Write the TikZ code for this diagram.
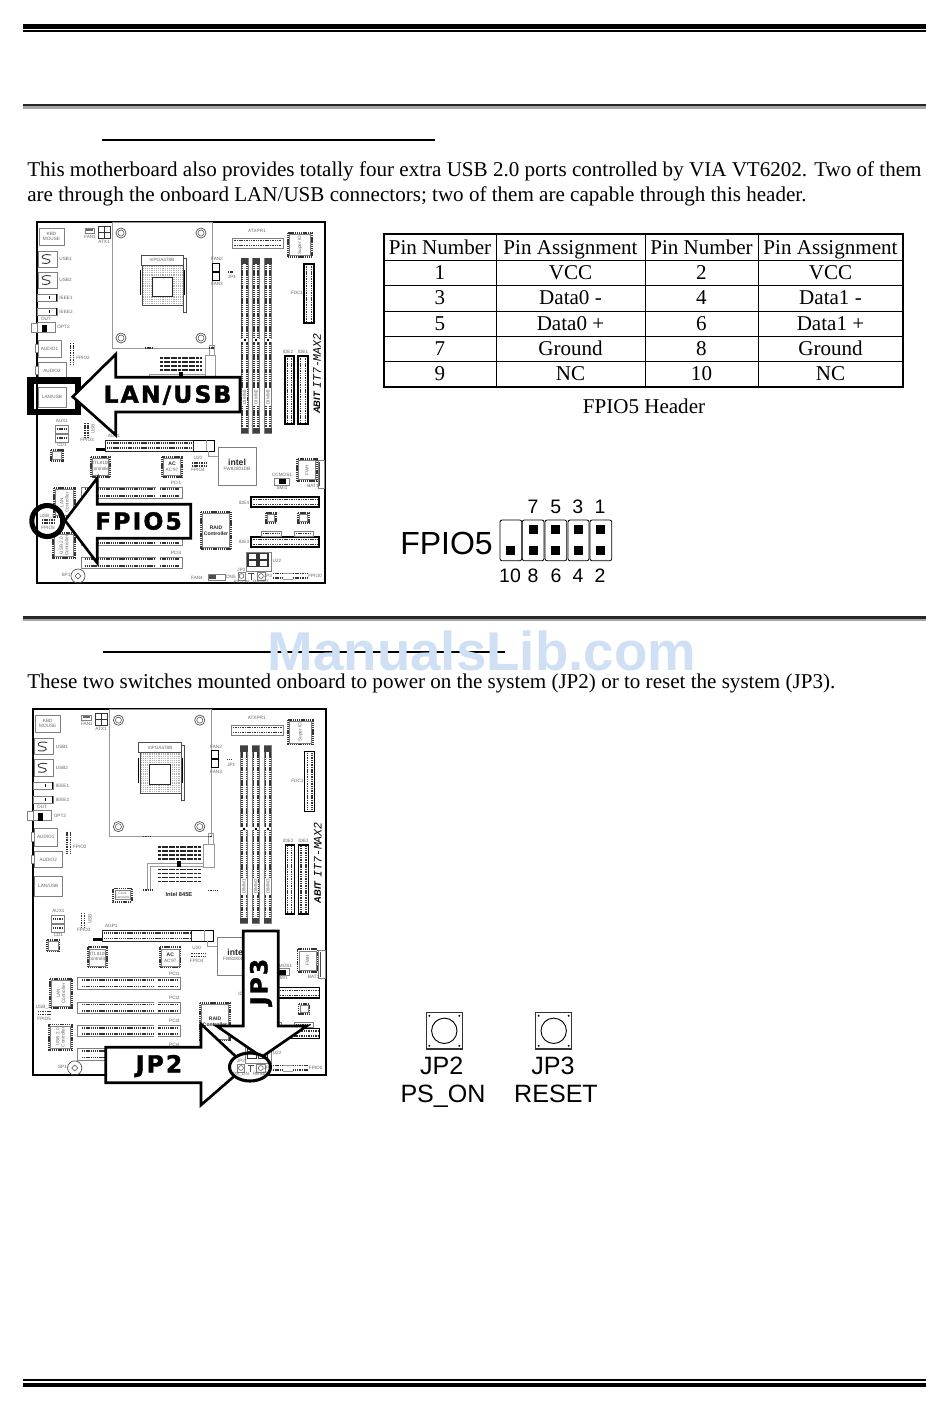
\documentclass[tikz,border=0pt]{standalone}
\usepackage{fontspec}
\setmainfont{Liberation Serif}
\newfontfamily\sanslab{Liberation Sans}
\newfontfamily\arrowfont[LetterSpace=9,FakeBold=1.6]{DejaVu Sans Bold}
\newfontfamily\brandfont{Liberation Mono}
\tikzset{
  boardtxt/.style={font=\sanslab\fontsize{3.5}{4}\selectfont,text=black!60,inner sep=0pt,align=center},
  boldtxt/.style={font=\sanslab\bfseries\fontsize{3.8}{4.2}\selectfont,text=black!85,inner sep=0pt,align=center},
  pins/.style={draw=black!80,line width=1.3pt,dash pattern=on .9pt off .5pt},
  thinpins/.style={draw=black!80,line width=.9pt,dash pattern=on .8pt off .5pt},
  holder/.style={draw=black!50,line width=.5pt,fill=white},
  rail/.style={draw=black!40,line width=.6pt},
  frameline/.style={draw=black,line width=1pt},
  bigarrow/.style={draw=black,fill=white,line width=2pt,miter limit=20},
  arrowtxt/.style={font=\arrowfont\fontsize{17.6}{18}\selectfont,inner sep=0pt},
  bodytxt/.style={font=\fontsize{15.8}{18}\selectfont,inner sep=0pt,anchor=base west},
  celltxt/.style={font=\fontsize{15.8}{18}\selectfont,inner sep=0pt,anchor=base},
  sanstxt/.style={font=\sanslab\fontsize{14.6}{16}\selectfont,inner sep=0pt},
  bigsans/.style={font=\sanslab\fontsize{18.8}{20}\selectfont,inner sep=0pt,anchor=base},
  pincell/.style={draw=black,line width=.6pt,rounded corners=1.5pt},
  pinsq/.style={fill=black},
  switchbox/.style={draw=black!80,line width=1.1pt},
}
\newcommand{\pfx}{a}
\newcommand{\lbl}[4][]{\node[boardtxt,#1] (\pfx#2) at (#3) {#4};}
\newcommand{\chipbody}[4]{
  \draw[pins] (#1,#2) rectangle (#3,#4);
  \draw[holder] ({#1+1.5},{#2+1.5}) rectangle ({#3-1.5},{#4-1.5});
}
\newcommand{\slotbody}[4]{
  \draw[holder] (#1,#2) rectangle (#3,#4);
  \draw[pins] ({#1+4},{#2+2.3}) -- ({#3-3},{#2+2.3});
  \draw[pins] ({#1+4},{#4-2.3}) -- ({#3-3},{#4-2.3});
  \fill[white] ({#1+75},#2) rectangle ({#1+79},#4);
}
\newcommand{\hhead}[4]{
  \draw[draw=black,line width=.9pt,fill=white] (#1,#2) rectangle (#3,#4);
  \draw[thinpins] ({#1+1.5},{#2+2.6}) -- ({#3-1.5},{#2+2.6});
  \draw[thinpins] ({#1+1.5},{#4-2.6}) -- ({#3-1.5},{#4-2.6});
}
\newcommand{\vhead}[4]{
  \draw[draw=black,line width=1pt,fill=white] (#1,#2) rectangle (#3,#4);
  \draw[thinpins] ({#1+2.6},{#2+1.5}) -- ({#1+2.6},{#4-1.5});
  \draw[thinpins] ({#3-2.6},{#2+1.5}) -- ({#3-2.6},{#4-1.5});
}
\newcommand{\segparts}{
  \draw[holder] (246,552) rectangle (271,571);
  \foreach \xx in {248,259}{
    \draw[black!80,line width=.8pt] (\xx,553.5) rectangle (\xx+9,566.5);
    \draw[black!80,line width=.8pt] (\xx,560) -- (\xx+9,560);
  }
  \lbl{jp2t}{241.5,569.5}{JP2}
  \draw[holder] (238,572) rectangle (245,580);
  \draw[black!70,line width=.4pt] (241.5,576) circle [radius=2.4];
  \draw[black!70,line width=.6pt] (248,573) -- (254,573) (251,573) -- (251,580);
  \draw[holder] (257,572) rectangle (265,580);
  \draw[black!70,line width=.4pt] (261,576) circle [radius=2.4];
  \lbl{jp3t}{268,575.5}{JP3}
  \lbl{pson}{241.5,582}{PS\_ON}
  \lbl{rset}{261,581.5}{RESET}
}
\newcommand{\hiddenparts}{
  \node[boldtxt,font=\sanslab\bfseries\fontsize{4.3}{5}\selectfont] (\pfx mch) at (180.5,404.5) {Intel 845E};
  \draw[pins] (116,399) rectangle (134,412);
  \draw[holder] (117.5,401) rectangle (132.5,410);
  \node[boardtxt,font=\sanslab\fontsize{2.4}{2.8}\selectfont] (\pfx clk) at (125,405.5) {Clock\\Generator};
  \lbl{pci2}{176,507}{PCI2}
  \lbl{pci3}{176,530}{PCI3}
}
\newcommand{\boardparts}{
%back panel
  \draw[frameline] (37,222) -- (325,222) -- (325,583) -- (37,583) -- cycle;
  \draw[holder] (39,228) rectangle (64,245);
  \lbl{kbd}{51.5,236.5}{KBD\\MOUSE}
  \foreach \yy/\nn in {251/1,272/2}{
    \draw[holder] (38,\yy) rectangle (57,\yy+16);
    \draw[black!75,line width=.7pt] (42,\yy+12) .. controls (52,\yy+14) and (52,\yy+8) .. (46,\yy+8) .. controls (40,\yy+8) and (40,\yy+2) .. (51,\yy+4);
    \lbl{usb\nn}{65.5,\yy+8}{USB\nn}
  }
  \foreach \yy/\nn in {294/1,308/2}{
    \draw[holder] (37,\yy) rectangle (57,\yy+7);
    \draw[black,line width=.6pt] (49,\yy+2) -- (49,\yy+5);
    \draw[black,line width=.6pt] (56.5,\yy) -- (56.5,\yy+7);
    \lbl{ieee\nn}{66,\yy+3.5}{IEEE\nn}
  }
  \lbl{out}{46,319}{OUT}
  \draw[holder] (31,323) rectangle (37,332);
  \draw[holder] (37,322) rectangle (55,332);
  \fill[black] (42,325) rectangle (47,332);
  \lbl{opt}{63.5,327}{OPT2}
  \draw[holder] (35,344) rectangle (38,352);
  \draw[holder] (38,340) rectangle (61,357);
  \lbl{aud1}{49.5,348.5}{AUDIO1}
  \draw[holder] (35,366) rectangle (38,374);
  \draw[holder] (38,362) rectangle (66,378);
  \lbl{aud2}{52,370.5}{AUDIO2}
  \draw[holder] (38,387) rectangle (66,407);
  \lbl{lan}{52,396.5}{LAN/USB}
  \draw[thinpins] (70.5,343) -- (70.5,364);
  \draw[thinpins] (73.5,343) -- (73.5,364);
  \lbl{fp2}{83,358}{FPIO2}
%cpu
  \draw[rail] (112,222) rectangle (212,348);
  \foreach \xx/\yy in {121/233,201/233,121/338,201/338}{
    \draw[black!70,line width=.5pt] (\xx,\yy) circle [radius=5];
    \draw[black!70,line width=.4pt] (\xx,\yy) circle [radius=3];
  }
  \fill[black!30] (142,265) rectangle (183,305);
  \foreach \gg in {0,2.2,...,41}{
    \draw[white,line width=.5pt] (142+\gg,265) -- (142+\gg,305);
    \draw[white,line width=.5pt] (142,265+\gg) -- (183,265+\gg);
  }
  \draw[black!70,line width=.4pt] (142,265) rectangle (183,305);
  \draw[draw=black!85,line width=.7pt,fill=white] (152,277) rectangle (172,296);
  \draw[black!70,line width=.6pt] (141,255) rectangle (183,265);
  \lbl{mpga}{162,260}{mPGA478B}
  \draw[black,line width=1pt] (140.5,270) -- (140.5,295);
  \draw[black,line width=1pt] (184,270) -- (184,295);
  \draw[black!70,line width=.6pt] (183,258) rectangle (186,312);
  \draw[draw=black,line width=.6pt] (212,263) rectangle (219,271);
  \draw[draw=black,line width=.6pt] (212,272) rectangle (219,280);
  \lbl{fan2}{217,259}{FAN2}
  \lbl{fan3}{217,284}{FAN3}
  \draw[thinpins] (228,272) -- (233,272);
  \lbl{jp1}{232,277}{JP1}
  \draw[holder] (85,228) rectangle (94,233);
  \fill[black!60] (86,229) rectangle (93,231);
  \lbl{fan1}{90,237}{FAN1}
  \draw[draw=black!80,line width=.7pt,fill=white] (98,226) rectangle (110,238);
  \draw[black!80,line width=.6pt] (104,226) -- (104,238) (98,232) -- (110,232);
  \lbl{atx}{104,242}{ATX1}
  \lbl{atxp}{257,231}{ATXPR1}
  \draw[holder] (232,238) rectangle (283,248);
  \draw[thinpins] (233.5,240.6) -- (281.5,240.6);
  \draw[thinpins] (233.5,245.4) -- (281.5,245.4);
  \chipbody{288}{233}{312}{257}
  \lbl[rotate=90]{sio}{300,245}{Super IO}
  \vhead{304}{264}{314}{323}
  \lbl{fdc}{297,293}{FDC1}
%memory
  \foreach \xx/\nn in {244.5/1,256/2,268/3}{
    \draw[holder] (\xx-3.5,258) rectangle (\xx+3.5,433);
    \draw[pins] (\xx-2.3,264) -- (\xx-2.3,427);
    \draw[pins] (\xx+2.3,264) -- (\xx+2.3,427);
    \fill[black!75] (\xx-3.5,258) rectangle (\xx+3.5,264);
    \fill[black!75] (\xx-3.5,428) rectangle (\xx+3.5,433);
    \fill[white] (\xx-3.5,338.5) rectangle (\xx+3.5,341.5);
    \fill[black] (\xx-1,339) rectangle (\xx+1,341);
    \node[boardtxt,fill=white,rotate=90,inner sep=.8pt] (\pfx dimm\nn) at (\xx,397) {DIMM\nn};
  }
  \vhead{285}{356}{294}{424}
  \vhead{298}{356}{308}{424}
  \lbl{ide2}{288,352}{IDE2}
  \lbl{ide1}{303,352}{IDE1}
  \node[rotate=90,inner sep=0pt,font=\brandfont\itshape\fontsize{8.6}{9}\selectfont] (\pfx brand) at (317,361) {IT7-MAX2};
  \node[rotate=90,inner sep=0pt,font=\sanslab\bfseries\itshape\fontsize{7}{8}\selectfont] (\pfx logo) at (317,403) {ABIT};
%north bridge
  \foreach \yy in {358,362,366,370,380,384,388,392}
    \draw[draw=black!85,line width=1.1pt,dash pattern=on 2.2pt off .5pt] (160,\yy) -- (202,\yy);
  \fill[black] (178.5,371.5) rectangle (183,378);
  \draw[rail,fill=white] (205,355.5) rectangle (215,378.5);
  \draw[rail] (149,400) -- (149,374) -- (178.5,374) (183,374) -- (205,374);
  \draw[rail] (152,400) -- (152,377) -- (178.5,377) (183,377) -- (205,377);
  \draw[rail] (209,345) rectangle (214,355.5);
  \draw[thinpins] (209,348) -- (214,348);
  \draw[thinpins] (145,348) -- (152,348);
  \draw[thinpins] (145,400.5) -- (155,400.5);
  \draw[thinpins] (209,401) -- (218,401);
%south side
  \draw[holder] (55,425) rectangle (68,433);
  \draw[thinpins] (57,429) -- (66,429);
  \lbl{aux}{62,421}{AUX1}
  \draw[holder] (55,434) rectangle (68,442);
  \draw[thinpins] (57,438) -- (66,438);
  \lbl{cd}{62,445}{CD1}
  \draw[thinpins] (85,423) -- (85,437);
  \draw[thinpins] (88,423) -- (88,437);
  \lbl{fp3}{87,440}{FPIO3}
  \lbl[rotate=90]{usbh}{93,429}{USB}
  \lbl{agp}{114,436}{AGP1}
  \draw[draw=black!85,line width=.7pt,fill=white] (105,440) rectangle (193,451);
  \draw[pins] (107,442.7) -- (192,442.7);
  \draw[pins] (107,448.3) -- (192,448.3);
  \fill[black] (96,448) rectangle (105,451);
  \draw[draw=black,line width=.7pt] (193,440) -- (214,440) -- (214,451) -- (193,451);
  \draw[rail] (206,440) -- (206,451) (208,451) -- (208,456) -- (218,456);
  \draw[holder] (218,447) rectangle (256,485);
  \node[boldtxt,font=\sanslab\bfseries\fontsize{6.5}{7}\selectfont] (\pfx ich) at (237,462) {intel};
  \lbl{ichn}{237,468.5}{FW82801DB}
  \chipbody{51}{450}{63}{461}
  \chipbody{91}{457}{110}{477}
  \lbl{lanc}{100.5,466}{RTL8100\\Controller}
  \chipbody{162}{457}{182}{477}
  \node[boldtxt] (\pfx acl) at (172,464) {AC};
  \lbl{acc}{172,470}{AC'97}
  \draw[thinpins] (192,463) -- (206,463);
  \draw[thinpins] (192,466) -- (206,466);
  \lbl{u20}{198,458}{U20}
  \lbl{fp4}{198,470}{FPIO4}
  \chipbody{297}{459}{317}{481}
  \lbl[rotate=90]{fwh}{307,470}{FWH}
  \draw[holder] (318,460) rectangle (324,488);
  \draw[black!70,line width=.3pt] (319.5,462) -- (319.5,486);
  \lbl{bat}{313,486}{BAT1}
  \lbl{ccm}{282,475}{CCMOS1}
  \draw[holder] (274,478) rectangle (289,485);
  \fill[black] (279,479) rectangle (286,484);
  \lbl{smi}{282,487.5}{SMI1}
%slots
  \foreach \yy in {487,511,534,557}{
    \slotbody{81}{\yy}{182}{\yy+11}
  }
  \lbl{pci1}{176,483}{PCI1}
  \lbl{pci4}{176,553}{PCI4}
  \chipbody{54}{488}{75}{517}
  \lbl[rotate=90]{lanx}{64.5,502.5}{LAN\\Controller}
  \chipbody{53}{533}{75}{558}
  \lbl[rotate=90]{usbx}{64,545.5}{USB 2.0\\Controller}
  \draw[thinpins] (42,520) -- (55,520);
  \draw[thinpins] (42,523) -- (55,523);
  \lbl{usbp}{47,516}{USB\_1}
  \lbl{fp5}{48,528}{FPIO5}
  \chipbody{201}{512}{231}{549}
  \node[boldtxt] (\pfx raid) at (216,530.5) {RAID\\Controller};
  \hhead{251}{497}{319}{507}
  \hhead{251}{537}{319}{547}
  \lbl{ide4}{244,503}{IDE4}
  \lbl{ide3}{244,542}{IDE3}
  \chipbody{266}{513}{276}{523}
  \chipbody{298}{513}{309}{523}
  \draw[holder] (261,531) rectangle (281,536);
  \draw[thinpins] (263,533.5) -- (279,533.5);
  \draw[holder] (294,531) rectangle (313,536);
  \draw[thinpins] (296,533.5) -- (311,533.5);
%bottom edge
  \segparts
  \lbl{u22}{277,561}{U22}
  \draw[black!70,line width=.5pt] (78,576) circle [radius=7];
  \draw[black!70,line width=.4pt] (78,573) -- (81,576) -- (78,579) -- (75,576) -- cycle;
  \lbl{sp}{66,575}{SP1}
  \draw[holder] (208,574) rectangle (225,580);
  \fill[black!70] (209,575) rectangle (216,579);
  \lbl{fwl}{197,578}{FAN4}
  \lbl{dnl}{231,577}{DN5}
  \draw[thinpins] (273,573.5) -- (283,573.5);
  \draw[thinpins] (273,578) -- (283,578);
  \draw[thinpins] (293,573.5) -- (307,573.5);
  \draw[thinpins] (293,578) -- (307,578);
  \draw[rail] (283,573) -- (293,573) (283,579) -- (293,579);
  \lbl{fp0}{315,576}{FPIO0}
}
\begin{document}
\begin{tikzpicture}[x=.75pt,y=-.75pt]
\useasboundingbox[fill=white] (0,0) rectangle (950,1411);
%rules
\fill[black] (23,24) rectangle (926,28.5);
\fill[black] (23,30.3) rectangle (926,32);
\fill[black!35] (23,105) rectangle (926,108.5);
\fill[black!85] (23,103.5) rectangle (926,105.5);
\fill[black!35] (23,618) rectangle (926,621);
\fill[black!85] (23,616) rectangle (926,618.5);
\fill[black] (23,1379) rectangle (926,1381);
\fill[black] (23,1383) rectangle (926,1387.3);
\draw[black,line width=1.5pt] (102,140) -- (435,140);
\draw[black,line width=1.5pt] (103,652) -- (505,652);
%text
\node[bodytxt] (line1) at (27,176) {This motherboard also provides totally four extra USB 2.0 ports controlled by VIA VT6202. Two of them};
\node[bodytxt] (line2) at (27,201) {are through the onboard LAN/USB connectors; two of them are capable through this header.};
\node[bodytxt] (line3) at (27,688) {These two switches mounted onboard to power on the system (JP2) or to reset the system (JP3).};
%table
\draw[black,line width=.9pt] (384,234) rectangle (903,387);
\foreach \yy in {260,285,311,336,361} \draw[black,line width=.7pt] (384,\yy) -- (903,\yy);
\foreach \xx in {496,645,758} \draw[black,line width=.7pt] (\xx,234) -- (\xx,387);
\foreach \yy/\aa/\bb/\cc/\dd/\rr in {254/Pin Number/Pin Assignment/Pin Number/Pin Assignment/0,
    279/1/VCC/2/VCC/1,304.5/3/Data0 -/4/Data1 -/2,330/5/Data0 +/6/Data1 +/3,
    355.5/7/Ground/8/Ground/4,380.5/9/NC/10/NC/5}{
  \node[celltxt] (cella\rr) at (440,\yy) {\aa};
  \node[celltxt] (cellb\rr) at (570.5,\yy) {\bb};
  \node[celltxt] (cellc\rr) at (701.5,\yy) {\cc};
  \node[celltxt] (celld\rr) at (830.5,\yy) {\dd};
}
\node[celltxt] (caption) at (644,413.5) {FPIO5 Header};
%first board
\renewcommand{\pfx}{a}
\boardparts
\draw[black,line width=4.6pt] (30.5,380.5) rectangle (78,412);
\draw[bigarrow] (72.7,396.7) -- (115.7,354.3) -- (115.7,377.3) -- (240,377.3) -- (240,412) -- (115.7,412) -- (115.7,435) -- cycle;
\node[arrowtxt] (lanusb) at (167.5,395) {LAN/USB};
\draw[bigarrow] (65,520.5) -- (97.3,478) -- (97.3,504.3) -- (190.7,504.3) -- (190.7,538.3) -- (97.3,538.3) -- (97.3,563) -- cycle;
\node[arrowtxt] (fpio) at (138.5,521) {FPIO5};
\draw[black,line width=3.8pt] (47.3,521) circle [radius=15.5];
%header
\node[font=\sanslab\fontsize{24}{24}\selectfont,inner sep=0pt] (fpiolabel) at (446.5,543) {FPIO5};
\foreach \xa/\xb in {500/521.7,522.3/544,545/566.7,568/589,590/611.7}
  \draw[pincell] (\xa,520) rectangle (\xb,560.7);
\foreach \xx in {533.3,555.7,578.3,600}{
  \fill[pinsq] (\xx-4.5,524.8) rectangle (\xx+4.5,533.8);
}
\foreach \xx in {510.7,533.3,555.7,578.3,600}{
  \fill[pinsq] (\xx-4.5,546.2) rectangle (\xx+4.5,555.2);
}
\foreach \xx/\nn in {533/7,555.7/5,577.7/3,600/1}
  \node[sanstxt] (top\nn) at (\xx,507) {\nn};
\foreach \xx/\nn in {510/10,533/8,556/6,578/4,600/2}
  \node[sanstxt] (bot\nn) at (\xx,576) {\nn};
%second board
\renewcommand{\pfx}{b}
\begin{scope}[shift={(-4.63,483.9)},xscale=1.017,yscale=1.014]
\boardparts
\hiddenparts
\end{scope}
\draw[bigarrow] (243.3,931) -- (278.3,931) -- (278.3,1026) -- (306.7,1026) -- (261.7,1057) -- (216.7,1026) -- (243.3,1026) -- cycle;
\node[arrowtxt,rotate=90] (jpthree) at (261,982) {JP3};
\draw[bigarrow] (105.7,1047.3) -- (201,1047.3) -- (201,1024) -- (246,1066) -- (201,1105) -- (201,1082.7) -- (105.7,1082.7) -- cycle;
\node[arrowtxt] (jptwo) at (159,1066) {JP2};
\fill[white] (250,1067) ellipse [x radius=20.5,y radius=14];
\begin{scope}
\clip (250,1067) ellipse [x radius=20.5,y radius=14];
\renewcommand{\pfx}{c}
\begin{scope}[shift={(-4.63,483.9)},xscale=1.017,yscale=1.014]
\segparts
\end{scope}
\end{scope}
\draw[black,line width=2.3pt] (250,1067) ellipse [x radius=20.5,y radius=14];
%switches
\foreach \xx/\nn/\tt/\ll/\mm in {444.3/JP2/PS\_ON/441.7/443,553.7/JP3/RESET/553/556}{
  \draw[switchbox] (\xx-18,1012.7) rectangle (\xx+18,1049);
  \draw[black,line width=.7pt] (\xx,1030.8) circle [radius=12.7];
  \foreach \sx in {-15,15} \foreach \sy in {-15,15}
    \fill[black] (\xx+\sx,1030.8+\sy) circle [radius=1.1];
  \node[bigsans] (name\nn) at (\ll,1074.5) {\nn};
  \node[bigsans] (func\nn) at (\mm,1102.5) {\tt};
}
%watermark
\node[font=\sanslab\bfseries\fontsize{41}{41}\selectfont,text={rgb,255:red,207;green,224;blue,245},inner sep=0pt] (mark) at (482,651) {ManualsLib.com};
\end{tikzpicture}
\end{document}
